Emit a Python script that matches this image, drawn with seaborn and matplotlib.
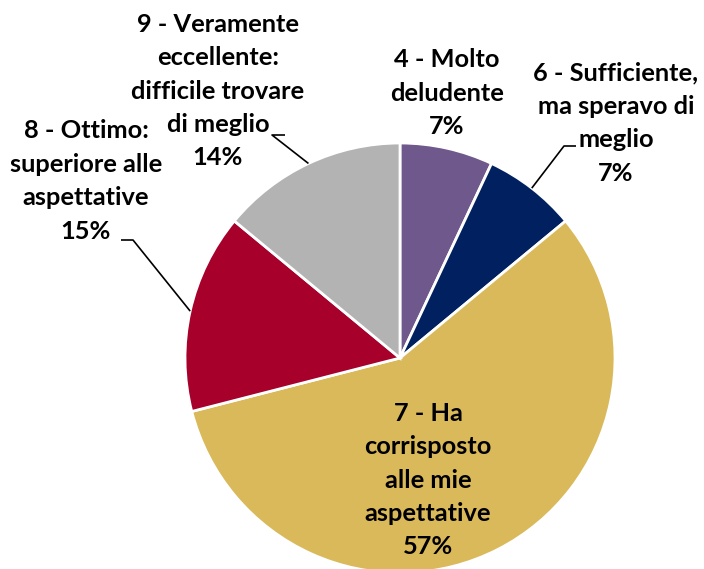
import numpy as np
import matplotlib.pyplot as plt
import seaborn as sns

# risposte (in senso orario dalle ore 12)
labels = [
    "4 - Molto\ndeludente",
    "6 - Sufficiente,\nma speravo di\nmeglio",
    "7 - Ha\ncorrisposto\nalle mie\naspettative",
    "8 - Ottimo:\nsuperiore alle\naspettative",
    "9 - Veramente\neccellente:\ndifficile trovare\ndi meglio",
]
values = [7, 7, 57, 15, 14]
colors = ["#6f588b", "#002060", "#d9b95a", "#a6002b", "#b3b3b3"]

W, H = 704, 569
CX, CY, R = 400, H - 358, 215

sns.set_theme(style="white")
plt.rcParams["font.family"] = ["Lato", "DejaVu Sans"]

fig = plt.figure(figsize=(W / 100, H / 100), dpi=100)
ax = fig.add_axes([0, 0, 1, 1])
wedges, _ = ax.pie(values, colors=sns.color_palette(colors), startangle=90,
                   counterclock=False, center=(CX, CY), radius=R,
                   wedgeprops=dict(edgecolor="white", linewidth=2))
ax.set_xlim(0, W)
ax.set_ylim(0, H)
ax.set_aspect("equal")
ax.axis("off")

# posizione etichette (pixel, y dall'alto) e gomito della linea guida
label_pos = [(447, 93), (616, 123), (428, 480), (86, 181), (218, 91)]
elbows = [None, (576, 146), None, (121, 240), (285, 135)]
knees = [None, (564, 146), None, (133, 240), (272, 135)]

for w, lab, v, (lx, ly), el, kn in zip(wedges, labels, values, label_pos, elbows, knees):
    ax.text(lx, H - ly, f"{lab}\n{v}%", ha="center", va="center",
            fontsize=18.3, fontweight="bold", color="black", linespacing=1.55)
    if el is not None:
        mid = np.deg2rad((w.theta1 + w.theta2) / 2)
        ex, ey = CX + R * np.cos(mid), CY + R * np.sin(mid)
        ax.plot([ex, kn[0], el[0]], [ey, H - kn[1], H - el[1]],
                color="black", lw=1.2, solid_capstyle="butt")

fig.savefig("out.png", dpi=100)
